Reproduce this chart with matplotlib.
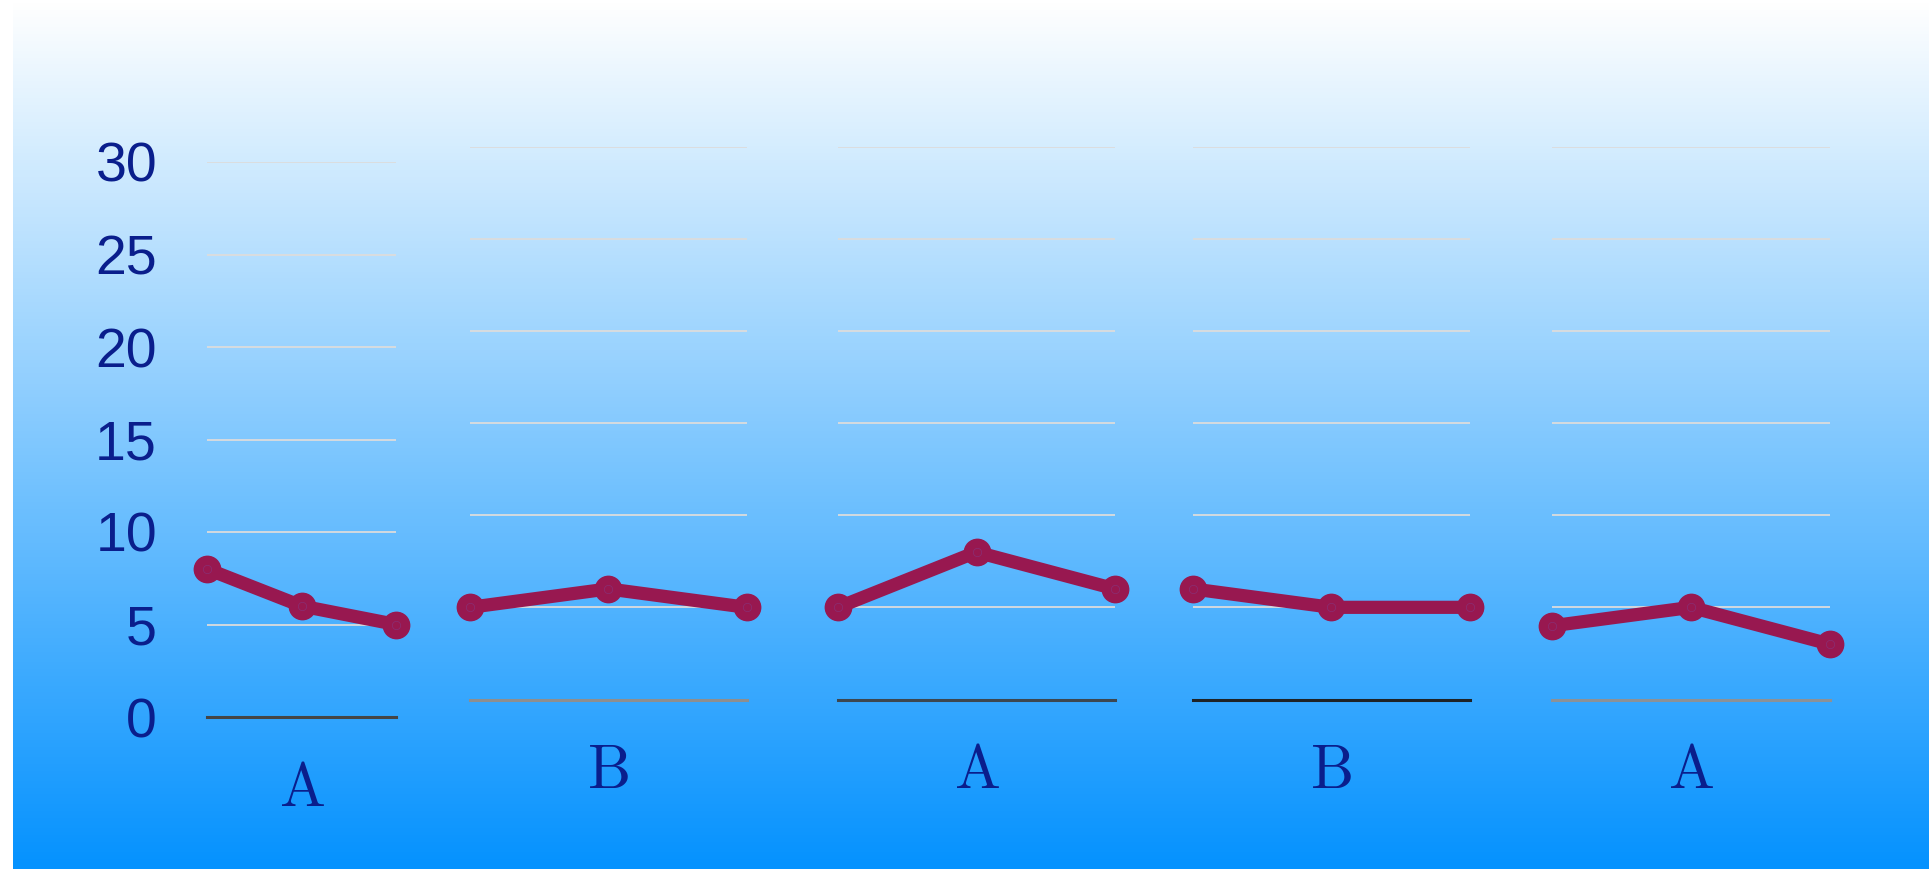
import numpy as np
import matplotlib.pyplot as plt
from matplotlib.colors import LinearSegmentedColormap

plt.rcParams['mathtext.fontset'] = 'cm'

# Values for each small panel (three points per panel)
panel_labels = ["A", "B", "A", "B", "A"]
panel_values = [
    [8, 6, 5],
    [5, 6, 5],
    [5, 8, 6],
    [6, 5, 5],
    [4, 5, 3],
]
y_ticks = [0, 5, 10, 15, 20, 25, 30]
baseline_colors = ["#454545", "#8e8e8e", "#3d4750", "#1f2326", "#8c9196"]

W, H = 1929, 869
fig = plt.figure(figsize=(W / 100, H / 100), dpi=100, facecolor="white")

# Vertical gradient backdrop, white at the top to bright blue at the bottom
bg = fig.add_axes([13 / W, 0, 1 - 13 / W, 1], zorder=-5)
grad_cmap = LinearSegmentedColormap.from_list("sky", ["#ffffff", "#0592fe"])
bg.imshow(np.linspace(0, 1, 256).reshape(-1, 1), cmap=grad_cmap, aspect="auto",
          extent=[0, 1, 0, 1], origin="upper")
bg.set_axis_off()

# Panel boxes in pixels: (left, right, y of zero, y of 30)
boxes = [
    (207, 396, 717, 162),
    (470, 746.6, 699.5, 146.5),
    (838, 1115, 699.5, 146.5),
    (1192.7, 1470, 699.5, 146.5),
    (1552.3, 1830, 699.5, 146.5),
]

line_color = "#981850"
text_blue = "#0a1e8c"

for i, (vals, lab, (x0, x1, yb, yt)) in enumerate(zip(panel_values, panel_labels, boxes)):
    ax = fig.add_axes([x0 / W, 1 - yb / H, (x1 - x0) / W, (yb - yt) / H])
    ax.patch.set_alpha(0)
    for s in ax.spines.values():
        s.set_visible(False)
    ax.set_xlim(0, len(vals) - 1)
    ax.set_ylim(0, 30)
    ax.set_yticks(y_ticks)
    ax.set_xticks([])
    ax.grid(axis="y", color="#dcdcdc", lw=1.3)
    ax.set_axisbelow(True)
    ax.axhline(0, color=baseline_colors[i], lw=2.2, solid_capstyle="projecting",
               clip_on=False, zorder=2)

    xs = np.arange(len(vals))
    ax.plot(xs, vals, color=line_color, lw=9.5, marker="o", ms=19,
            mec=line_color, mfc=line_color, clip_on=False, zorder=3)
    ax.plot(xs, vals, ls="none", marker="o", ms=6, mfc="none",
            mec="#8a2f74", mew=0.5, clip_on=False, zorder=4)

    if i == 0:
        ax.tick_params(axis="y", length=0, pad=36, labelsize=40, labelcolor=text_blue)
        for t in ax.get_yticklabels():
            t.set_fontfamily("Liberation Sans")
    else:
        ax.tick_params(axis="y", length=0, labelleft=False)

    ax.annotate(r"$\mathrm{%s}$" % lab, xy=(0.5, 0), xycoords="axes fraction",
                xytext=(0, -52), textcoords="offset points",
                ha="center", va="center", fontsize=44, color=text_blue)

fig.savefig("out.png", dpi=100, facecolor="white")
